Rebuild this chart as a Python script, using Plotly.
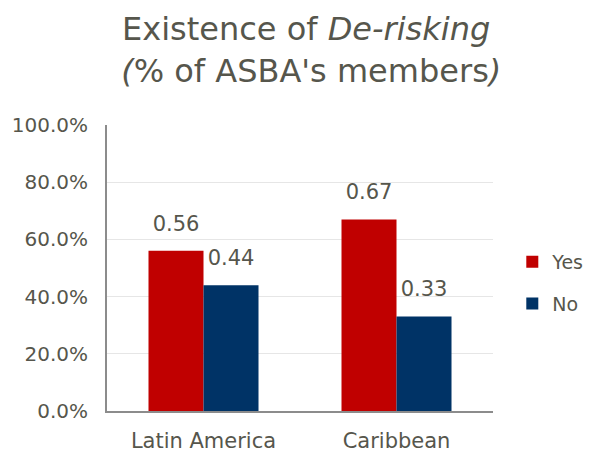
import plotly.graph_objects as go

categories = ["Latin America", "Caribbean"]
yes_values = [0.56, 0.67]
no_values = [0.44, 0.33]
series_names = ["Yes", "No"]
tick_vals = [0, 0.2, 0.4, 0.6, 0.8, 1.0]

txt = "#56564c"
font_family = "DejaVu Sans, Verdana, sans-serif"
label_tpl = "<span style='font-size:21px'>%{y:.2f}</span><br> "

fig = go.Figure()
fig.add_trace(go.Bar(
    x=categories, y=yes_values, name=series_names[0],
    marker=dict(color="#C00000", line=dict(width=0)),
    texttemplate=label_tpl, textposition="outside",
    textfont=dict(size=11, color=txt), cliponaxis=False, legendgroup="a",
))
fig.add_trace(go.Bar(
    x=categories, y=no_values, name=series_names[1],
    marker=dict(color="#003366", line=dict(width=0)),
    texttemplate=label_tpl, textposition="outside",
    textfont=dict(size=11, color=txt), cliponaxis=False, legendgroup="b",
))

# page body has an 8px margin, so the figure is 8px smaller than the window
fig.update_layout(
    width=584, height=444,
    paper_bgcolor="white", plot_bgcolor="white",
    font=dict(family=font_family, color=txt),
    margin=dict(l=99, r=99, t=117, b=41, autoexpand=False),
    barmode="group", bargap=0.43, bargroupgap=0,
    annotations=[dict(
        text="Existence of <i>De-risking</i><br> <i>(</i>% of ASBA's members<i>)</i>",
        xref="paper", yref="paper", x=0.515, y=1.0 + (117 - 42) / 286,
        xanchor="center", yanchor="middle", showarrow=False,
        font=dict(size=32, color=txt, family=font_family),
    )],
    legend=dict(
        x=1.05, y=0.448, xanchor="left", yanchor="middle",
        font=dict(size=19, color=txt), traceorder="grouped", tracegroupgap=14,
        itemwidth=30, bgcolor="rgba(0,0,0,0)",
    ),
    showlegend=True,
)
fig.update_yaxes(
    range=[0, 1], tickvals=tick_vals, tickformat=".1%",
    tickfont=dict(size=20, color=txt),
    showgrid=True, gridcolor="#e6e6e6", gridwidth=1,
    showline=True, linecolor="#8c8c8c", linewidth=2,
    ticks="", ticklen=0, zeroline=False,
    ticklabelstandoff=13,
)
fig.update_xaxes(
    tickfont=dict(size=21, color=txt),
    showline=True, linecolor="#8c8c8c", linewidth=2,
    ticks="", ticklabelstandoff=10,
)

fig.write_html("out.html")
